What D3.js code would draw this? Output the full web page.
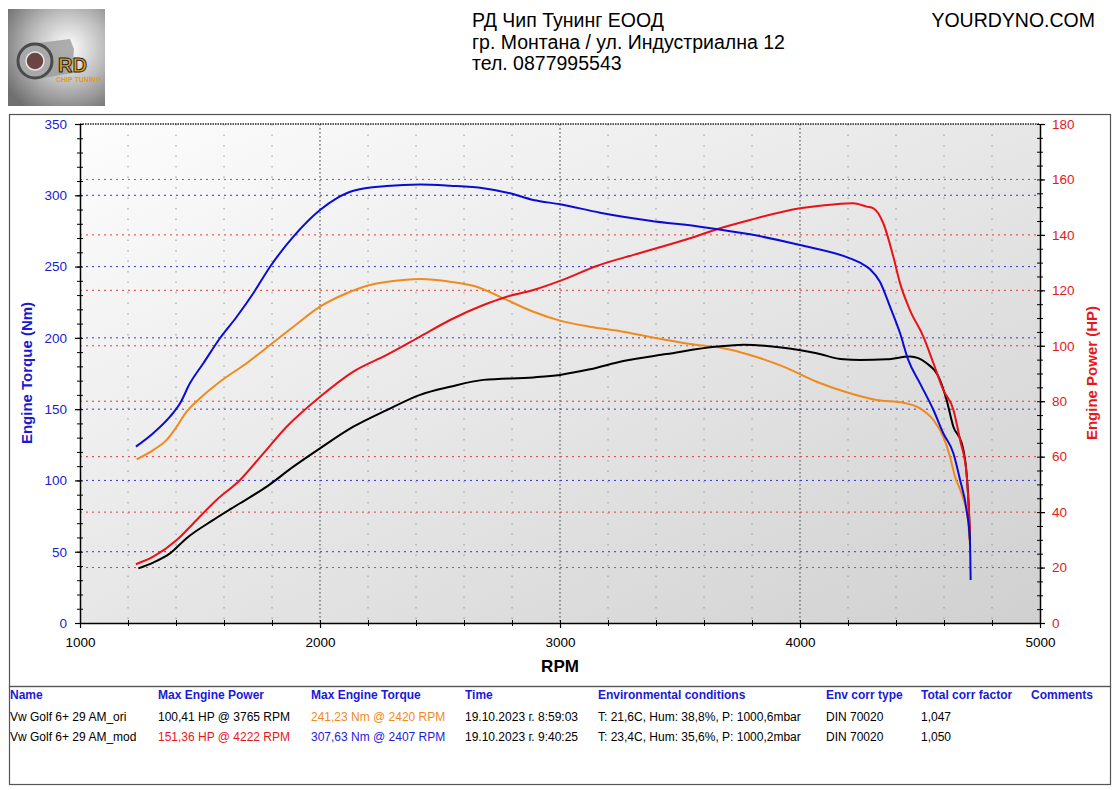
<!DOCTYPE html>
<html>
<head>
<meta charset="utf-8">
<script src="https://cdn.jsdelivr.net/npm/d3@7"></script>
<style>
    body { margin: 0; background: #fff; }
    svg { display: block; font-family: "Liberation Sans", Arial, sans-serif; }
</style>
</head>
<body>
<svg id="chart" width="1118" height="790"></svg>
<script>
// ---- data read from the dyno sheet ----
const rpmTicks = [1000, 2000, 3000, 4000, 5000];
const torqueTicks = [0, 50, 100, 150, 200, 250, 300, 350];
const powerTicks = [0, 20, 40, 60, 80, 100, 120, 140, 160, 180];

// modified - torque (blue)
const modTorqueRpm = [1233, 1305, 1375, 1417, 1458, 1514, 1583, 1653, 1722, 1792, 1889, 2000, 2069, 2139, 2278, 2417,
    2542, 2681, 2792, 2889, 3000, 3167, 3375, 3583, 3792, 4000, 4208, 4250, 4292, 4333, 4375, 4417, 4451, 4500,
    4556, 4597, 4639, 4667, 4694, 4708, 4711];
const modTorque = [123.7, 133.1, 144.7, 154.1, 168.1, 182.2, 199.7, 214.8, 231.3, 249.9, 271.0, 289.7, 297.9, 303.2, 306.5, 307.6,
    306.7, 304.9, 301.4, 296.7, 293.7, 287.8, 282.2, 278.0, 272.6, 265.1, 255.8, 252.7, 248.1, 239.4, 221.9, 203.2, 184.5, 168.1,
    149.4, 133.1, 119.1, 100.3, 79.3, 58.2, 30.2];

// original - torque (orange)
const oriTorqueRpm = [1236, 1305, 1361, 1403, 1444, 1500, 1583, 1694, 1792, 1889, 2000, 2111, 2208, 2347, 2420, 2542,
    2653, 2764, 2889, 3000, 3125, 3264, 3403, 3542, 3681, 3792, 3931, 4069, 4194, 4319, 4431, 4500, 4556, 4597,
    4625, 4646, 4675, 4700, 4708];
const oriTorque = [114.8, 121.3, 128.4, 137.7, 148.2, 157.6, 169.2, 182.2, 195.0, 207.8, 221.9, 231.3, 237.1, 240.6, 241.2, 239.4,
    235.9, 227.7, 218.3, 212.1, 207.8, 204.3, 199.7, 195.7, 192.7, 188.0, 179.8, 169.2, 161.8, 156.4, 154.5, 150.6, 142.4, 130.7,
    116.6, 102.6, 89.8, 72.2, 54.7];

// modified - power (red)
const modPowerRpm = [1233, 1305, 1403, 1472, 1569, 1667, 1764, 1861, 2000, 2139, 2278, 2417, 2542, 2681, 2778, 2889,
    3000, 3153, 3306, 3542, 3667, 3792, 4000, 4139, 4222, 4278, 4306, 4347, 4389, 4417, 4458, 4514, 4556, 4597,
    4639, 4667, 4694, 4708];
const modPower = [21.2, 23.9, 29.9, 35.9, 44.4, 51.6, 61.2, 70.8, 81.6, 90.7, 96.7, 103.3, 109.3, 114.7, 117.7, 120.1,
    123.4, 128.8, 132.8, 138.8, 142.4, 145.4, 149.6, 151.0, 151.4, 150.2, 149.6, 144.2, 132.1, 122.5, 112.9, 103.3, 93.7, 84.1,
    76.9, 66.0, 54.0, 33.0];

// original - power (black)
const oriPowerRpm = [1243, 1305, 1375, 1444, 1556, 1667, 1778, 1889, 2000, 2139, 2278, 2417, 2542, 2681, 2889, 3000,
    3125, 3264, 3444, 3653, 3765, 3931, 4069, 4181, 4250, 4361, 4458, 4528, 4583, 4611, 4639, 4674, 4694, 4705, 4708];
const oriPower = [19.7, 21.8, 25.1, 30.6, 37.2, 43.2, 49.2, 56.4, 63.0, 70.8, 76.8, 82.3, 85.2, 87.7, 88.6, 89.5,
    91.5, 94.5, 97.0, 99.7, 100.4, 99.3, 97.3, 95.1, 94.9, 95.1, 96.1, 93.7, 87.7, 80.4, 70.8, 64.8, 54.0, 38.3, 29.9];

const headerLines = ['РД Чип Тунинг ЕООД', 'гр. Монтана / ул. Индустриална 12', 'тел. 0877995543'];
const siteName = 'YOURDYNO.COM';

const tableHeaders = ['Name', 'Max Engine Power', 'Max Engine Torque', 'Time', 'Environmental conditions',
    'Env corr type', 'Total corr factor', 'Comments'];
const tableRows = [
    ['Vw Golf 6+ 29 AM_ori', '100,41 HP @ 3765 RPM', '241,23 Nm @ 2420 RPM', '19.10.2023 г. 8:59:03',
        'T: 21,6C, Hum: 38,8%, P: 1000,6mbar', 'DIN 70020', '1,047', ''],
    ['Vw Golf 6+ 29 AM_mod', '151,36 HP @ 4222 RPM', '307,63 Nm @ 2407 RPM', '19.10.2023 г. 9:40:25',
        'T: 23,4C, Hum: 35,6%, P: 1000,2mbar', 'DIN 70020', '1,050', '']
];
const rowColors = [
    ['#000', '#000', '#f08a1c', '#000', '#000', '#000', '#000', '#000'],
    ['#000', '#e8161c', '#1c1cd8', '#000', '#000', '#000', '#000', '#000']
];

// ---- layout ----
const BLUE = '#0b0bd6', ORANGE = '#f08a1c', RED = '#ea1218';
const colX = [10, 158, 311, 465, 598, 826, 921, 1031];

const svg = d3.select('#chart');
const defs = svg.append('defs');

let x = d3.scaleLinear().domain([1000, 5000]).range([80, 1040]);
let yT = d3.scaleLinear().domain([0, 350]).range([623, 124]);
let yP = d3.scaleLinear().domain([0, 180]).range([623, 124]);

// frames
svg.append('rect').attr('x', 9.5).attr('y', 114.5).attr('width', 1101).attr('height', 572)
    .attr('fill', 'none').attr('stroke', '#555').attr('stroke-width', 1.2);
svg.append('rect').attr('x', 9.5).attr('y', 686.5).attr('width', 1101).attr('height', 98)
    .attr('fill', 'none').attr('stroke', '#555').attr('stroke-width', 1.2);

// logo (rough vector stand-in)
let lg = defs.append('radialGradient').attr('id', 'logoBg').attr('cx', '0.62').attr('cy', '0.4').attr('r', '0.75');
lg.append('stop').attr('offset', '0%').attr('stop-color', '#ffffff');
lg.append('stop').attr('offset', '50%').attr('stop-color', '#bdbdbd');
lg.append('stop').attr('offset', '100%').attr('stop-color', '#707070');
let logo = svg.append('g').attr('transform', 'translate(8,9)');
logo.append('rect').attr('width', 97).attr('height', 97).attr('fill', 'url(#logoBg)');
logo.append('path').attr('d', 'M30,34 L62,30 L66,40 L64,64 L30,70 Z').attr('fill', '#9a9a9a').attr('opacity', 0.8);
logo.append('circle').attr('cx', 27).attr('cy', 52).attr('r', 17).attr('fill', '#a8a8a8').attr('stroke', '#4a4a4a').attr('stroke-width', 3);
logo.append('circle').attr('cx', 27).attr('cy', 52).attr('r', 9).attr('fill', '#6b4444').attr('stroke', '#e5e5e5').attr('stroke-width', 1.5);
logo.append('text').attr('x', 50).attr('y', 63).text('RD')
    .attr('font-size', 20).attr('font-weight', 'bold').attr('fill', '#f0a21a')
    .attr('stroke', '#222').attr('stroke-width', 1);
logo.append('text').attr('x', 48).attr('y', 73).text('CHIP TUNING')
    .attr('font-size', 7).attr('font-weight', 'bold').attr('fill', '#e39a1c');

// header text
svg.append('g').selectAll('text').data(headerLines).enter().append('text')
    .attr('x', 472).attr('y', (d, i) => 27 + i * 21.5)
    .attr('font-size', 19.5).attr('fill', '#000').text(d => d);
svg.append('text').attr('x', 1095).attr('y', 27).attr('text-anchor', 'end')
    .attr('font-size', 19.5).text(siteName);

// plot background
let bg = defs.append('linearGradient').attr('id', 'plotBg')
    .attr('x1', '0').attr('y1', '0').attr('x2', '1').attr('y2', '1');
bg.append('stop').attr('offset', '0%').attr('stop-color', '#fdfdfd');
bg.append('stop').attr('offset', '100%').attr('stop-color', '#d0d0d0');
svg.append('rect').attr('x', x(1000)).attr('y', yT(350))
    .attr('width', x(5000) - x(1000)).attr('height', yT(0) - yT(350))
    .attr('fill', 'url(#plotBg)');

// grid
let grid = svg.append('g');
grid.selectAll('.vminor').data(d3.range(1200, 5000, 200).filter(r => r % 1000 !== 0)).enter().append('line')
    .attr('x1', d => x(d)).attr('x2', d => x(d)).attr('y1', yT(350)).attr('y2', yT(0))
    .attr('stroke', '#8c9c8c').attr('stroke-width', 1).attr('stroke-dasharray', '1.5,9');
grid.selectAll('.vmajor').data([2000, 3000, 4000]).enter().append('line')
    .attr('x1', d => x(d)).attr('x2', d => x(d)).attr('y1', yT(350)).attr('y2', yT(0))
    .attr('stroke', '#666').attr('stroke-width', 1.3).attr('stroke-dasharray', '1.5,2.5');
grid.selectAll('.hblue').data(torqueTicks.filter(v => v > 0 && v < 350)).enter().append('line')
    .attr('x1', x(1000)).attr('x2', x(5000)).attr('y1', d => yT(d)).attr('y2', d => yT(d))
    .attr('stroke', '#3434d8').attr('stroke-width', 1).attr('stroke-dasharray', '2,4');
grid.selectAll('.hred').data(powerTicks.filter(v => v > 0 && v < 180)).enter().append('line')
    .attr('x1', x(1000)).attr('x2', x(5000)).attr('y1', d => yP(d)).attr('y2', d => yP(d))
    .attr('stroke', '#e23a3a').attr('stroke-width', 1).attr('stroke-dasharray', '2,4');
grid.append('line').attr('x1', x(1000)).attr('x2', x(5000)).attr('y1', yT(350)).attr('y2', yT(350))
    .attr('stroke', '#222').attr('stroke-width', 1.3).attr('stroke-dasharray', '1.5,1');

// axes
function styleAxis(g, color) {
    g.selectAll('path').attr('stroke', '#000').attr('stroke-width', 1.5);
    g.selectAll('line').attr('stroke', '#000').attr('stroke-width', 1.2);
    g.selectAll('text').attr('fill', color).attr('font-size', 13.5)
        .attr('font-family', '"Liberation Sans", Arial, sans-serif');
}
function minorAxis(axis, tr) {
    let g = svg.append('g').attr('transform', tr).call(axis.tickFormat('').tickSize(6));
    g.select('.domain').remove();
    g.selectAll('line').attr('stroke', '#000').attr('stroke-width', 1);
}
minorAxis(d3.axisLeft(yT).tickValues(d3.range(0, 351, 10)), 'translate(83,0)');
minorAxis(d3.axisRight(yP).tickValues(d3.range(0, 181, 5)), 'translate(1037,0)');
minorAxis(d3.axisBottom(x).tickValues(d3.range(1000, 5001, 200)), 'translate(0,620)');

let leftAxis = svg.append('g').attr('transform', 'translate(80,0)')
    .call(d3.axisLeft(yT).tickValues(torqueTicks).tickFormat(d3.format('d'))
        .tickSize(5).tickPadding(8).tickSizeOuter(0));
styleAxis(leftAxis, '#1c1cd0');
let rightAxis = svg.append('g').attr('transform', 'translate(1040,0)')
    .call(d3.axisRight(yP).tickValues(powerTicks).tickFormat(d3.format('d'))
        .tickSize(5).tickPadding(7).tickSizeOuter(0));
styleAxis(rightAxis, '#e41a1a');
let bottomAxis = svg.append('g').attr('transform', 'translate(0,623)')
    .call(d3.axisBottom(x).tickValues(rpmTicks).tickFormat(d3.format('d'))
        .tickSize(5).tickPadding(9).tickSizeOuter(0));
styleAxis(bottomAxis, '#000');

// axis titles
svg.append('text').attr('transform', 'translate(32,373) rotate(-90)').attr('text-anchor', 'middle')
    .attr('font-size', 15).attr('font-weight', 'bold').attr('fill', '#1a1ad0').text('Engine Torque (Nm)');
svg.append('text').attr('transform', 'translate(1097,373) rotate(-90)').attr('text-anchor', 'middle')
    .attr('font-size', 15).attr('font-weight', 'bold').attr('fill', '#e41a1a').text('Engine Power (HP)');
svg.append('text').attr('x', 560).attr('y', 672).attr('text-anchor', 'middle')
    .attr('font-size', 17).attr('font-weight', 'bold').text('RPM');

// curves
function drawCurve(rpms, vals, yScale, color) {
    let pts = rpms.map((r, i) => [r, vals[i]]);
    let line = d3.line()
        .x(d => x(d[0]))
        .y(d => yScale(d[1]))
        .curve(d3.curveMonotoneX);
    svg.append('path').datum(pts)
        .attr('d', line)
        .attr('fill', 'none')
        .attr('stroke', color)
        .attr('stroke-width', 2)
        .attr('stroke-linejoin', 'round');
}
drawCurve(oriTorqueRpm, oriTorque, yT, ORANGE);
drawCurve(oriPowerRpm, oriPower, yP, '#000');
drawCurve(modPowerRpm, modPower, yP, RED);
drawCurve(modTorqueRpm, modTorque, yT, BLUE);

// results table
let table = svg.append('g');
table.selectAll('.th').data(tableHeaders).enter().append('text')
    .attr('x', (d, i) => colX[i]).attr('y', 699)
    .attr('font-size', 12).attr('font-weight', 'bold').attr('fill', '#1a1ad8').text(d => d);
tableRows.forEach(function (row, r) {
    table.selectAll('.row' + r).data(row).enter().append('text')
        .attr('x', (d, i) => colX[i]).attr('y', 721 + r * 20)
        .attr('font-size', 12).attr('fill', (d, i) => rowColors[r][i]).text(d => d);
});
</script>
</body>
</html>
